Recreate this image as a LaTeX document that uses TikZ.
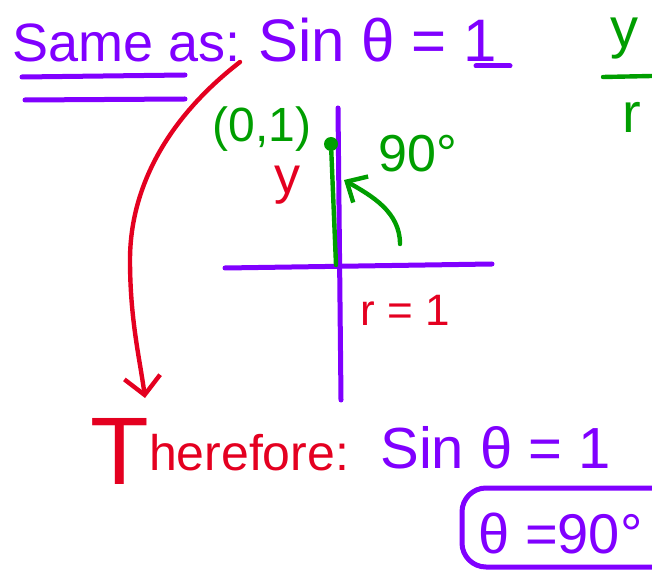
\documentclass[tikz,border=0pt]{standalone}
\usepackage{fontspec}
\setmainfont{Liberation Sans}
\usepackage{xcolor}
\usepackage{tikz}
\usetikzlibrary{arrows.meta,positioning}
\definecolor{penpurple}{RGB}{128,0,255}
\definecolor{penred}{RGB}{228,0,32}
\definecolor{pengreen}{RGB}{0,158,0}
\tikzset{
    purpleink/.style={
        text=penpurple,
        inner sep=0pt,
        anchor=base west
    },
    redink/.style={
        text=penred,
        inner sep=0pt,
        anchor=base west
    },
    greenink/.style={
        text=pengreen,
        inner sep=0pt,
        anchor=base west
    },
    purplepen/.style={
        draw=penpurple,
        line width=2.5pt,
        line cap=round,
        line join=round
    },
    redpen/.style={
        draw=penred,
        line width=2.2pt,
        line cap=round,
        line join=round
    },
    greenpen/.style={
        draw=pengreen,
        line width=2.2pt,
        line cap=round,
        line join=round
    },
    dotnode/.style={
        circle,
        fill=pengreen,
        inner sep=0pt,
        minimum size=7pt
    }
}

\begin{document}
\begin{tikzpicture}[x=0.5pt, y=-0.5pt]
        \useasboundingbox (0,0) rectangle (652,571);

        % top line
        \node[purpleink, font=\fontsize{27}{27}\selectfont] (same) at (12,62) {Same as:};
        \node[purpleink, font=\fontsize{30}{30}\selectfont] (sintop) at (258,62) {Sin θ = 1};
        \draw[purplepen] (22,77) -- (185,75);
        \draw[purplepen] (25,100) -- (185,99);
        \draw[purplepen] (476,66) -- (510,66);

        \node[greenink, font=\fontsize{28}{28}\selectfont] (ynum) at (610,48) {y};
        \node[greenink, font=\fontsize{28}{28}\selectfont] (rden) at (622,133) {r};
        \draw[greenpen] (603,77) -- (652,76);

        % axes
        \coordinate (xleft) at (225,268);
        \coordinate (xright) at (492,264);
        \coordinate (ytop) at (338,108);
        \coordinate (ybottom) at (341,400);
        \draw[purplepen] (xleft) -- (xright);
        \draw[purplepen] (ytop) -- (ybottom);

        \node[dotnode] (pt) at (331,144) {};
        \coordinate (origin) at (336,265);
        \draw[greenpen] (pt) -- (origin);
        \node[greenink, font=\fontsize{24}{24}\selectfont] (ptlabel) at (212,142) {(0,1)};
        \node[greenink, font=\fontsize{26}{26}\selectfont] (angle) at (378,172) {90°};
        \coordinate (arcstart) at (400,244);
        \draw[greenpen, -{Straight Barb[length=8pt,width=15pt]}] (arcstart) .. controls (400,212) and (372,196) .. (344,180);

        \node[redink, font=\fontsize{26}{26}\selectfont] (ylabel) at (274,194) {y};
        \node[redink, font=\fontsize{22}{22}\selectfont] (rlabel) at (360,325) {r = 1};

        % result
        \node[redink, font=\fontsize{25}{25}\selectfont] (there) at (90,470) {\raisebox{-7pt}{\fontsize{48}{48}\selectfont T}herefore:};
        \node[purpleink, font=\fontsize{29}{29}\selectfont] (sinbot) at (380,468) {Sin θ = 1};

        \coordinate (arrowtail) at (240,62);
        \coordinate (arrowtip) at (145,398);
        \draw[redpen, -{Straight Barb[length=9pt,width=18pt]}] (arrowtail) .. controls (165,120) and (130,190) .. (130,260) .. controls (130,320) and (140,360) .. (arrowtip);

        \node[purpleink, font=\fontsize{28}{28}\selectfont] (answer) at (478,553) {θ =90°};
        \draw[purplepen, rounded corners=12pt] (660,488) -- (462,488) -- (462,567) -- (660,567);
    \end{tikzpicture}
\end{document}
